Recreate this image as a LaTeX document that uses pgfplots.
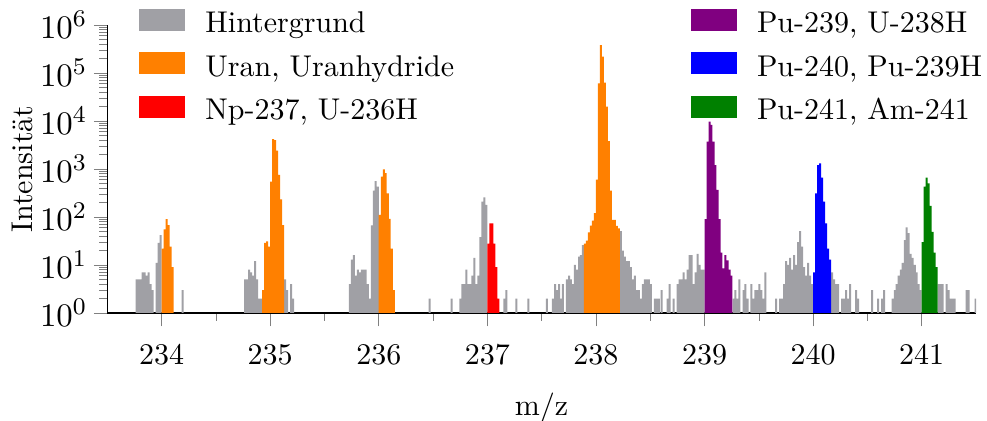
\documentclass[border=0pt]{standalone}
\usepackage{pgfplots}
\pgfplotsset{compat=1.18}
\definecolor{hgrau}{RGB}{160,160,165}
\definecolor{uorange}{RGB}{255,128,0}
\definecolor{puviolett}{RGB}{128,0,128}
\definecolor{dgruen}{RGB}{0,128,0}
\begin{document}
\begin{tikzpicture}
\begin{axis}[
 scale only axis, width=289.6pt, height=96pt,
 xmin=233.5, xmax=241.5, ymin=1, ymax=1e6, ymode=log,
 axis x line=bottom, axis y line=left, axis line style={-},
 tick align=outside, major tick length=4.5pt, minor tick length=2.6pt,
 xtick={234,235,236,237,238,239,240,241}, minor x tick num=1,
 ytick={1,10,100,1000,10000,100000,1000000},
 x tick label style={/pgf/number format/1000 sep={}, yshift=-2.6pt},
 y tick label style={font=\fontsize{11.3}{13}\selectfont, xshift=1.3pt},
 xlabel={m/z}, ylabel={Intensität},
 xlabel style={at={(axis description cs:0.5,-0.33)}, anchor=center},
 ylabel style={at={(axis description cs:-0.0976,0.5)}, anchor=center},
 ybar, bar shift=0pt, bar width=0.0184,
 legend columns=3, transpose legend, legend cell align=left,
 legend style={draw=none, fill=none, inner sep=0pt, at={(0.0363,1.065)}, anchor=north west,
   nodes={inner sep=0pt, text height=8.6pt, text depth=0pt},
   /tikz/every odd column/.style={column sep=6.7pt},
   /tikz/column 2/.style={column sep=79pt}, row sep=5.9pt},
 legend image code/.code={\fill[#1] (0pt,-3.65pt) rectangle (15.3pt,3.65pt);},
]
\coordinate (sw) at (rel axis cs:0,0);
\coordinate (ne) at (rel axis cs:1,1);
\addplot[fill=hgrau, draw=none] coordinates {
(233.770,5) (233.788,5) (233.807,5) (233.825,7) (233.844,7) (233.862,6) (233.880,7) (233.899,4) (233.917,3) (233.954,11) (233.972,29) (233.991,42) (234.193,3)
(234.770,5) (234.788,5) (234.807,8) (234.825,7) (234.844,6) (234.862,12) (234.880,5) (234.899,2) (234.917,2) (235.138,5) (235.156,3) (235.193,4) (235.212,2)
(235.733,4) (235.752,13) (235.770,16) (235.788,6) (235.807,8) (235.825,7) (235.844,8) (235.862,8) (235.880,8) (235.899,4) (235.917,2) (235.936,67) (235.954,355) (235.972,560) (235.991,430) (236.469,2) (236.672,2)
(236.752,2) (236.770,4) (236.788,4) (236.807,8) (236.825,4) (236.844,4) (236.862,6) (236.880,14) (236.899,4) (236.917,6) (236.936,38) (236.954,208) (236.972,257) (236.991,178) (237.156,2) (237.175,3) (237.267,2) (237.377,2)
(237.549,2) (237.604,2) (237.623,4) (237.641,3) (237.660,4) (237.678,2) (237.696,4) (237.733,5) (237.752,6) (237.770,5) (237.788,4) (237.807,10) (237.825,8) (237.844,15) (237.862,16) (237.880,26) (238.230,51) (238.248,20) (238.267,15) (238.285,12) (238.304,12) (238.322,9) (238.340,5) (238.359,6) (238.377,3) (238.396,3) (238.414,2) (238.432,4) (238.451,5) (238.469,5) (238.488,5) (238.506,4) (238.543,2) (238.561,2) (238.580,2)
(238.604,3) (238.660,2) (238.678,4) (238.715,2) (238.752,4) (238.770,5) (238.788,5) (238.807,7) (238.825,5) (238.844,8) (238.862,16) (238.880,16) (238.899,4) (238.917,7) (238.936,17) (238.954,10) (238.972,8) (238.991,8) (239.267,2) (239.285,3) (239.304,2) (239.322,5) (239.359,3) (239.377,4) (239.396,2) (239.432,4) (239.451,2) (239.469,3) (239.488,3) (239.506,4) (239.524,3) (239.543,2) (239.561,7)
(239.660,2) (239.696,2) (239.715,2) (239.733,4) (239.752,12) (239.770,10) (239.788,14) (239.807,8) (239.825,16) (239.844,10) (239.862,30) (239.880,51) (239.899,24) (239.917,9) (239.936,6) (239.954,11) (239.972,6) (239.991,4) (240.175,7) (240.193,5) (240.212,4) (240.230,4) (240.267,2) (240.285,2) (240.304,3) (240.322,2) (240.340,4) (240.396,3) (240.414,2) (240.543,3) (240.598,2) (240.635,2) (240.653,3)
(240.733,2) (240.752,3) (240.770,4) (240.788,6) (240.807,8) (240.825,11) (240.844,33) (240.862,61) (240.880,46) (240.899,17) (240.917,14) (240.936,10) (240.954,7) (240.972,4) (240.991,3) (241.156,4) (241.175,4) (241.193,4) (241.230,4) (241.248,3) (241.267,2) (241.285,2) (241.304,2) (241.414,3) (241.432,3) (241.497,2)
};
\addlegendentry{Hintergrund}
\addplot[fill=uorange, draw=none] coordinates {
(234.009,22) (234.028,55) (234.046,90) (234.064,68) (234.083,24) (234.101,9)
(234.936,3) (234.954,29) (234.972,31) (234.991,24) (235.009,546) (235.028,4200) (235.046,4000) (235.064,2400) (235.083,750) (235.101,234) (235.120,68)
(236.009,110) (236.028,690) (236.046,980) (236.064,815) (236.083,310) (236.101,91) (236.120,22) (236.138,3)
(237.899,28) (237.917,32) (237.936,48) (237.954,66) (237.972,84) (237.991,120) (238.009,600) (238.028,61000) (238.046,380000) (238.064,220000) (238.083,63000) (238.101,20000) (238.120,3800) (238.138,354) (238.156,87) (238.175,87) (238.193,65) (238.212,58)
};
\addlegendentry{Uran, Uranhydride}
\addplot[fill=red, draw=none] coordinates {
(237.009,28) (237.028,74) (237.046,74) (237.064,28) (237.083,9) (237.101,2)
};
\addlegendentry{Np-237, U-236H}
\addplot[fill=puviolett, draw=none] coordinates {
(239.009,90) (239.028,3700) (239.046,9700) (239.064,8300) (239.083,3700) (239.101,1210) (239.120,365) (239.138,90) (239.156,18) (239.175,8.5) (239.193,16) (239.212,12.5) (239.230,8) (239.248,6)
};
\addlegendentry{Pu-239, U-238H}
\addplot[fill=blue, draw=none] coordinates {
(240.009,7) (240.028,310) (240.046,1210) (240.064,1310) (240.083,660) (240.101,208) (240.120,74) (240.138,22) (240.156,13)
};
\addlegendentry{Pu-240, Pu-239H}
\addplot[fill=dgruen, draw=none] coordinates {
(241.009,30) (241.028,430) (241.046,660) (241.064,500) (241.083,170) (241.101,49) (241.120,18) (241.138,9)
};
\addlegendentry{Pu-241, Am-241}
\end{axis}
\path (sw) ++(-35.77pt,-36pt) coordinate (bl);
\path (ne) ++(3.67pt,8.33pt) coordinate (tr);
\pgfresetboundingbox
\path[use as bounding box] (bl) rectangle (tr);
\end{tikzpicture}
\end{document}
